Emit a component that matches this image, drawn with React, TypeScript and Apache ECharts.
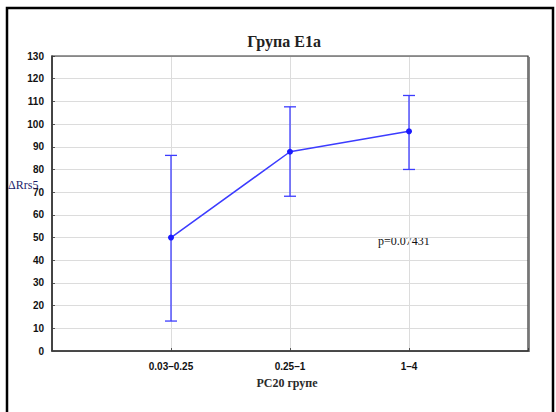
import React, { useEffect, useRef } from "react";
import * as echarts from "echarts";

const categories = ["0.03–0.25", "0.25–1", "1–4"];
const means = [50, 87.8, 96.8];
const lower = [13.2, 68.2, 80.0];
const upper = [86.2, 107.6, 112.6];
const yTicks = [0, 10, 20, 30, 40, 50, 60, 70, 80, 90, 100, 110, 120, 130];

const BLUE = "#3c3cff";
const SERIF = "'Liberation Serif', 'Times New Roman', serif";
const SANS = "'Liberation Sans', Arial, sans-serif";

export default function App() {
  const ref = useRef<HTMLDivElement>(null);
  useEffect(() => {
    if (!ref.current) return;
    const chart = echarts.init(ref.current, null, { renderer: "svg" });
    const pointData = means.map((m, i) => [i + 1, m]);
    const errData = means.map((m, i) => [i + 1, lower[i], upper[i]]);
    chart.setOption({
      animation: false,
      backgroundColor: "#ffffff",
      grid: { left: 52, top: 56, right: 28, bottom: 61, containLabel: false },
      xAxis: {
        type: "value",
        min: 0,
        max: 4,
        interval: 1,
        axisLine: { show: true, lineStyle: { color: "#333", width: 1.5 } },
        axisTick: { show: true, inside: true, length: 3, lineStyle: { color: "#555" } },
        axisLabel: {
          margin: 10,
          fontFamily: SANS,
          fontWeight: "bold",
          fontSize: 10,
          color: "#111",
          formatter: (v: number) => (v >= 1 && v <= 3 ? categories[v - 1] : ""),
        },
        splitLine: { show: true, lineStyle: { color: "#dcdcdc", width: 1 } },
      },
      yAxis: {
        type: "value",
        min: 0,
        max: 130,
        interval: 10,
        axisLine: { show: true, lineStyle: { color: "#333", width: 1.5 } },
        axisTick: { show: true, inside: true, length: 3, lineStyle: { color: "#555" } },
        axisLabel: {
          margin: 8,
          fontFamily: SANS,
          fontWeight: "bold",
          fontSize: 10,
          color: "#111",
          formatter: (v: number) => (yTicks.includes(v) ? String(v) : ""),
        },
        splitLine: { show: true, lineStyle: { color: "#dcdcdc", width: 1 } },
      },
      series: [
        {
          type: "custom",
          renderItem: (params: any, api: any) => {
            const x = api.value(0);
            const lo = api.coord([x, api.value(1)]);
            const hi = api.coord([x, api.value(2)]);
            const hw = 6;
            const st = { stroke: BLUE, lineWidth: 1.3 };
            return {
              type: "group",
              children: [
                { type: "line", shape: { x1: lo[0], y1: lo[1], x2: hi[0], y2: hi[1] }, style: st },
                { type: "line", shape: { x1: lo[0] - hw, y1: lo[1], x2: lo[0] + hw, y2: lo[1] }, style: st },
                { type: "line", shape: { x1: hi[0] - hw, y1: hi[1], x2: hi[0] + hw, y2: hi[1] }, style: st },
              ],
            };
          },
          data: errData,
          z: 3,
        },
        {
          type: "line",
          data: pointData,
          symbol: "circle",
          symbolSize: 6,
          lineStyle: { color: BLUE, width: 1.5 },
          itemStyle: { color: "#1a1aff" },
          z: 4,
        },
      ],
      graphic: [
        {
          type: "rect",
          shape: { x: 52, y: 56, width: 476, height: 295 },
          style: { fill: "none", stroke: "#333", lineWidth: 1.2 },
          silent: true,
          z: 1,
        },
        {
          type: "line",
          shape: { x1: 529, y1: 57, x2: 529, y2: 352 },
          style: { stroke: "#888", lineWidth: 2 },
          silent: true,
        },
        {
          type: "rect",
          shape: { x: 7, y: 8, width: 546, height: 412 },
          style: { fill: "none", stroke: "#000", lineWidth: 2.5 },
          silent: true,
        },
        {
          type: "text",
          x: 284,
          y: 41,
          style: {
            text: "Група E1a",
            font: "bold 16px " + SERIF,
            fill: "#222",
            textAlign: "center",
            textVerticalAlign: "middle",
          },
        },
        {
          type: "text",
          x: 287,
          y: 383,
          style: {
            text: "PC20 групе",
            font: "bold 12px " + SERIF,
            fill: "#2a2a2a",
            textAlign: "center",
            textVerticalAlign: "middle",
          },
        },
        {
          type: "text",
          x: 8,
          y: 185,
          style: {
            text: "ΔRrs5",
            font: "12px " + SERIF,
            fill: "#1c1c6a",
            textVerticalAlign: "middle",
          },
          z: 10,
        },
        {
          type: "text",
          x: 378,
          y: 241,
          style: {
            text: "p=0.07431",
            font: "12px " + SERIF,
            fill: "#111",
            textVerticalAlign: "middle",
          },
        },
      ],
    });
    return () => chart.dispose();
  }, []);
  return (
    <div
      ref={ref}
      style={{ position: "absolute", left: 0, top: 0, width: 556, height: 412 }}
    />
  );
}
